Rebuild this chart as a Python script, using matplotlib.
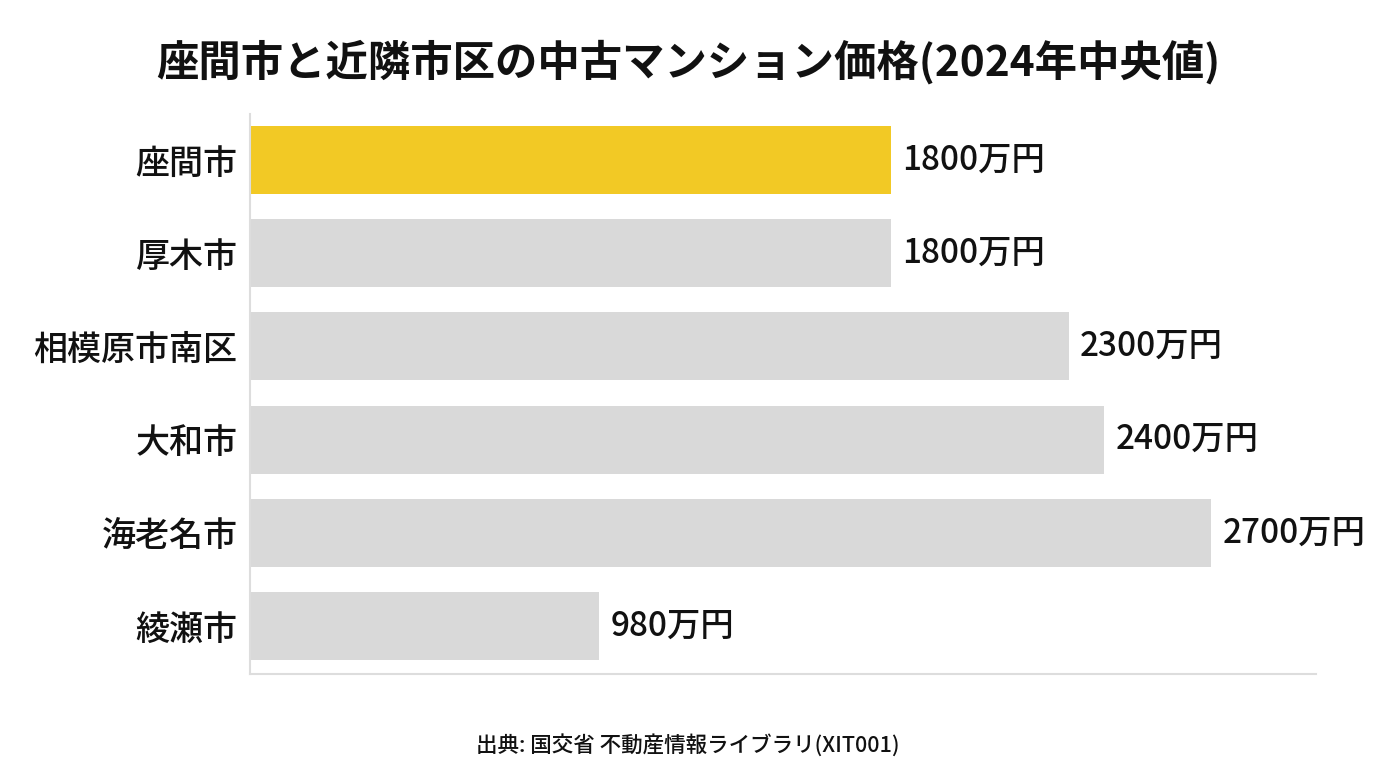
import matplotlib
matplotlib.use("Agg")
import matplotlib.pyplot as plt

plt.rcParams['font.family'] = ['Noto Sans CJK JP', 'DejaVu Sans']

# data (2024 median, 万円)
cities = ['座間市', '厚木市', '相模原市南区', '大和市', '海老名市', '綾瀬市']
prices = [1800, 1800, 2300, 2400, 2700, 980]
labels = ['1800万円', '1800万円', '2300万円', '2400万円', '2700万円', '980万円']
highlight = '座間市'

fig = plt.figure(figsize=(13.76, 7.68), dpi=100)
ax = fig.add_axes([250/1376, 1-674/768, (1316-250)/1376, (674-114)/768])

colors = ['#F2C925' if c == highlight else '#D9D9D9' for c in cities]
ypos = list(range(len(cities)))
bars = ax.barh(ypos, prices, height=0.73, color=colors)

for b, lab in zip(bars, labels):
    ax.text(b.get_width() + 32, b.get_y() + b.get_height()/2, lab,
            va='center', ha='left', fontsize=24, fontweight='medium', color='#111111')

ax.set_yticks(ypos)
ax.set_yticklabels(cities, fontsize=24.5, fontweight='medium', color='#111111')
ax.set_ylim(5.515, -0.494)
ax.set_xlim(0, 2995)
ax.set_xticks([])
ax.tick_params(axis='y', length=0, pad=9)

for s in ['top', 'right']:
    ax.spines[s].set_visible(False)
for s in ['left', 'bottom']:
    ax.spines[s].set_color('#DDDDDD')
    ax.spines[s].set_linewidth(1.5)

fig.text(0.5, 1-62/768, '座間市と近隣市区の中古マンション価格(2024年中央値)',
         ha='center', va='center', fontsize=30.5, fontweight='bold', color='#111111')
fig.text(0.5, 1-745/768, '出典: 国交省 不動産情報ライブラリ(XIT001)',
         ha='center', va='center', fontsize=15.5, fontweight='medium', color='#111111')

fig.savefig('out.png', dpi=100)
